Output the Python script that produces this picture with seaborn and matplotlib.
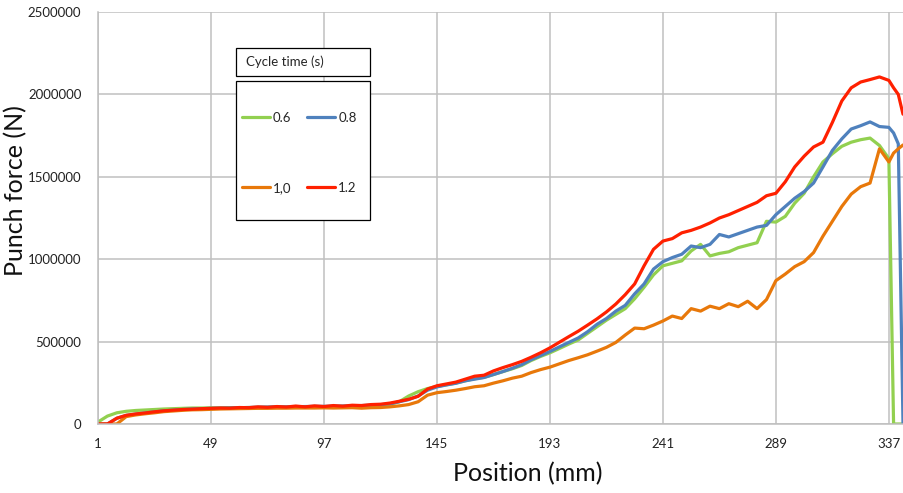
import matplotlib
matplotlib.use("Agg")
import matplotlib.pyplot as plt
import seaborn as sns
import pandas as pd
from matplotlib.patches import Rectangle

W, H = 904, 493

# positions (mm) sampled every 4 categories, plus the last few at the end
position = list(range(1, 338, 4)) + [339, 341, 343]

# punch force in kN
force_06 = [
    12, 48, 68, 77, 82, 85, 88, 91, 93, 95,
    97, 97, 98, 98, 99, 99, 100, 100, 101, 102,
    102, 103, 104, 104, 105, 106, 107, 108, 109, 111,
    114, 120, 135, 170, 196, 215, 228, 238, 248, 262,
    275, 283, 300, 318, 335, 355, 385, 410, 432, 458,
    485, 510, 550, 590, 630, 665, 700, 760, 830, 905,
    960, 975, 990, 1050, 1090, 1020, 1035, 1045, 1070, 1085,
    1100, 1230, 1225, 1260, 1340, 1400, 1500, 1590, 1640, 1685,
    1710, 1725, 1735, 1690, 1610, 0, 0, 0,
]
force_08 = [
    0, 0, 35, 52, 60, 67, 73, 80, 84, 88,
    91, 93, 95, 96, 97, 99, 100, 102, 103, 104,
    104, 105, 106, 107, 107, 108, 109, 110, 112, 114,
    117, 122, 135, 148, 170, 205, 225, 237, 247, 262,
    272, 282, 300, 318, 338, 360, 390, 415, 440, 468,
    495, 522, 560, 605, 640, 685, 720, 790, 850, 940,
    985, 1010, 1030, 1080, 1070, 1090, 1150, 1135, 1155, 1175,
    1195, 1205, 1270, 1320, 1370, 1410, 1462, 1560, 1660, 1730,
    1790, 1810, 1833, 1805, 1800, 1766, 1700, 0,
]
force_10 = [
    0, 0, 0, 45, 55, 62, 68, 75, 79, 83,
    86, 87, 89, 91, 92, 93, 94, 95, 95, 96,
    96, 97, 97, 97, 98, 97, 98, 99, 96, 99,
    100, 104, 110, 118, 135, 175, 190, 197, 205, 215,
    226, 232, 248, 262, 278, 290, 312, 330, 345, 365,
    385, 402, 420, 442, 465, 495, 540, 582, 578, 600,
    625, 655, 640, 700, 685, 715, 700, 730, 712, 745,
    700, 755, 870, 910, 955, 985, 1040, 1140, 1230, 1320,
    1395, 1440, 1462, 1670, 1590, 1644, 1670, 1693,
]
force_12 = [
    0, 0, 35, 53, 61, 67, 74, 80, 84, 88,
    90, 93, 95, 97, 96, 100, 99, 104, 101, 106,
    103, 109, 104, 110, 106, 112, 108, 114, 112, 118,
    120, 127, 138, 150, 168, 212, 232, 243, 254, 272,
    290, 296, 322, 342, 360, 380, 405, 432, 462, 496,
    530, 563, 600, 638, 680, 728, 785, 850, 960, 1060,
    1110, 1125, 1160, 1175, 1195, 1220, 1250, 1270, 1295, 1320,
    1345, 1385, 1400, 1470, 1560, 1625, 1681, 1710, 1830, 1960,
    2040, 2075, 2090, 2106, 2085, 2040, 2000, 1880,
]

cycles = ["0.6", "0.8", "1,0", "1.2"]
colors = ["#92D050", "#4F81BD", "#E8780A", "#FF2000"]
x_ticks = [1, 49, 97, 145, 193, 241, 289, 337]
y_ticks = [0, 500000, 1000000, 1500000, 2000000, 2500000]


def fx(px):
    return px / W


def fy(py):
    return 1 - py / H


frames = []
for name, vals in zip(cycles, [force_06, force_08, force_10, force_12]):
    frames.append(pd.DataFrame({"position": position,
                                "force": [v * 1000 for v in vals],
                                "cycle": name}))
df = pd.concat(frames, ignore_index=True)

sns.set_theme(style="white")
plt.rcParams["font.family"] = ["Lato", "DejaVu Sans"]

fig = plt.figure(figsize=(W / 100, H / 100), dpi=100)
ax = fig.add_axes([fx(98), fy(424), (903 - 98) / W, (424 - 12) / H])

sns.lineplot(data=df, x="position", y="force", hue="cycle", hue_order=cycles,
             palette=colors, linewidth=2.3, estimator=None, ax=ax,
             solid_joinstyle="round")

ax.set_xlim(1, 343)
ax.set_ylim(0, 2500000)
ax.set_xticks(x_ticks)
ax.set_xticklabels([str(t) for t in x_ticks])
ax.set_yticks(y_ticks)
ax.set_yticklabels([str(t) for t in y_ticks])
ax.set_axisbelow(True)
ax.grid(True, color="#C0C0C0", linewidth=1.1)
for side in ["top", "right"]:
    ax.spines[side].set_visible(False)
for side in ["left", "bottom"]:
    ax.spines[side].set_color("#BFBFBF")
    ax.spines[side].set_linewidth(1.1)
ax.tick_params(axis="both", length=5, width=1.1, color="#BFBFBF",
               labelsize=9.5, labelcolor="#222222")
ax.tick_params(axis="x", pad=5)
ax.tick_params(axis="y", pad=7)

ax.set_xlabel("Position (mm)", fontsize=18, color="#111111")
ax.xaxis.set_label_coords((528 - 98) / 805, (424 - 462) / 412)
ax.set_ylabel("Punch force (N)", fontsize=18, color="#111111")
ax.yaxis.set_label_coords((27 - 98) / 805, (424 - 191) / 412)

# legend: separate title box and entry box, entries in 2 columns
handles, labels = ax.get_legend_handles_labels()
ax.get_legend().remove()
order = [0, 2, 1, 3]
ax.add_patch(Rectangle((fx(236), fy(76)), (370 - 236) / W, (76 - 48) / H,
                       transform=fig.transFigure, facecolor="white",
                       edgecolor="black", linewidth=0.9, clip_on=False, zorder=4))
ax.add_patch(Rectangle((fx(236), fy(220)), (370 - 236) / W, (220 - 81) / H,
                       transform=fig.transFigure, facecolor="white",
                       edgecolor="black", linewidth=0.9, clip_on=False, zorder=4))
ax.text(fx(246), fy(62), "Cycle time (s)", transform=fig.transFigure,
        fontsize=9.5, va="center", ha="left", zorder=6)
ax.legend([handles[i] for i in order], [labels[i] for i in order], ncol=2,
          loc="upper left", bbox_to_anchor=(fx(242), fy(112)),
          bbox_transform=fig.transFigure, frameon=False, fontsize=9.5,
          handlelength=2.1, handletextpad=0.25, columnspacing=1.2,
          labelspacing=4.4, borderpad=0, borderaxespad=0)

fig.savefig("out.png", dpi=100)
